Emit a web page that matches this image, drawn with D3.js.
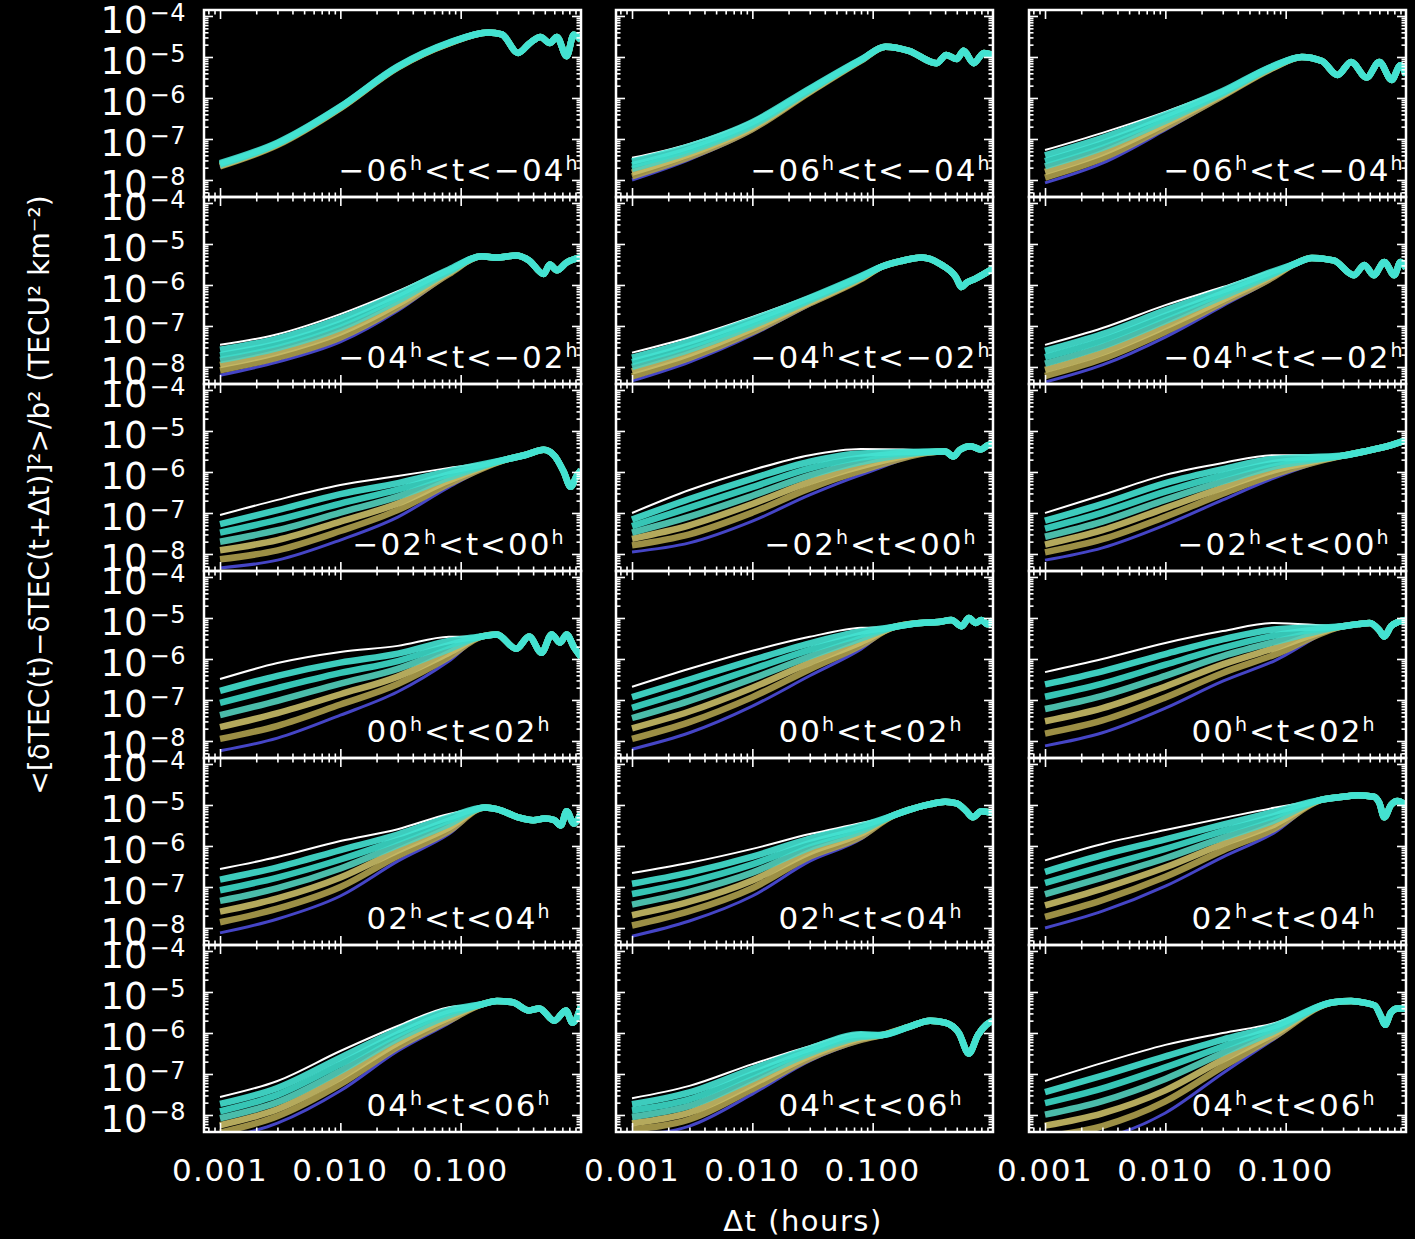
<!DOCTYPE html>
<html><head><meta charset="utf-8">
<script src="https://cdn.jsdelivr.net/npm/d3@7"></script>
<style>body{margin:0;background:#000}svg{display:block}</style>
</head><body>
<svg id="c" width="1415" height="1239"></svg>
<script>
// ---------------- data ----------------
const xTicks = [0.001, 0.01, 0.1];
const xTickLabels = ["0.001", "0.010", "0.100"];
const yExponents = [-4, -5, -6, -7, -8];
const rowHours = [["−06","−04"],["−04","−02"],["−02","00"],["00","02"],["02","04"],["04","06"]];
// Δt knots (hours) of the fanned-out early part of each curve
const knots = [0.001, 0.003, 0.01, 0.03, 0.08];
// log10 values, curves ordered top (white) -> bottom (blue)
const fan11 = [[-7.57,-7.08,-6.20,-5.22,-4.65],[-7.59,-7.09,-6.21,-5.23,-4.65],[-7.61,-7.11,-6.22,-5.24,-4.66],[-7.63,-7.12,-6.23,-5.25,-4.66],[-7.65,-7.13,-6.24,-5.25,-4.67],[-7.67,-7.15,-6.25,-5.26,-4.67],[-7.69,-7.16,-6.26,-5.27,-4.68]];
const fan12 = [[-7.46,-7.12,-6.55,-5.75,-5.05],[-7.55,-7.18,-6.59,-5.77,-5.06],[-7.64,-7.25,-6.63,-5.79,-5.07],[-7.73,-7.31,-6.68,-5.82,-5.08],[-7.82,-7.37,-6.72,-5.84,-5.08],[-7.91,-7.44,-6.76,-5.86,-5.09],[-8.00,-7.50,-6.80,-5.88,-5.10]];
const fan13 = [[-7.27,-6.85,-6.34,-5.80,-5.20],[-7.40,-6.97,-6.41,-5.83,-5.21],[-7.54,-7.10,-6.49,-5.86,-5.22],[-7.67,-7.22,-6.56,-5.89,-5.24],[-7.80,-7.34,-6.63,-5.92,-5.25],[-7.94,-7.47,-6.71,-5.95,-5.26],[-8.07,-7.59,-6.78,-5.98,-5.27]];
const fan21 = [[-7.46,-7.20,-6.71,-6.15,-5.59],[-7.58,-7.31,-6.82,-6.23,-5.62],[-7.71,-7.43,-6.94,-6.31,-5.65],[-7.83,-7.54,-7.05,-6.39,-5.68],[-7.95,-7.65,-7.16,-6.47,-5.70],[-8.08,-7.77,-7.28,-6.55,-5.73],[-8.20,-7.88,-7.39,-6.63,-5.76]];
const fan22 = [[-7.65,-7.28,-6.78,-6.27,-5.76],[-7.77,-7.38,-6.85,-6.31,-5.78],[-7.88,-7.48,-6.93,-6.34,-5.80],[-8.00,-7.58,-7.00,-6.38,-5.82],[-8.11,-7.68,-7.07,-6.42,-5.84],[-8.23,-7.78,-7.15,-6.45,-5.86],[-8.34,-7.88,-7.22,-6.49,-5.88]];
const fan23 = [[-7.46,-7.05,-6.49,-6.05,-5.63],[-7.61,-7.20,-6.62,-6.13,-5.66],[-7.76,-7.35,-6.75,-6.20,-5.70],[-7.92,-7.50,-6.88,-6.28,-5.73],[-8.07,-7.65,-7.01,-6.36,-5.76],[-8.22,-7.80,-7.14,-6.43,-5.80],[-8.37,-7.95,-7.27,-6.51,-5.83]];
const fan31 = [[-7.05,-6.68,-6.32,-6.10,-5.90],[-7.27,-6.93,-6.54,-6.27,-5.98],[-7.48,-7.17,-6.77,-6.43,-6.06],[-7.70,-7.42,-6.99,-6.60,-6.14],[-7.91,-7.66,-7.21,-6.77,-6.21],[-8.13,-7.91,-7.44,-6.93,-6.29],[-8.34,-8.15,-7.66,-7.10,-6.37]];
const fan32 = [[-7.00,-6.44,-5.95,-5.59,-5.44],[-7.16,-6.66,-6.16,-5.75,-5.55],[-7.32,-6.87,-6.37,-5.91,-5.65],[-7.48,-7.09,-6.58,-6.08,-5.76],[-7.63,-7.30,-6.78,-6.24,-5.86],[-7.79,-7.52,-6.99,-6.40,-5.97],[-7.95,-7.73,-7.20,-6.56,-6.07]];
const fan33 = [[-7.00,-6.56,-6.07,-5.78,-5.59],[-7.19,-6.78,-6.27,-5.93,-5.68],[-7.38,-6.99,-6.48,-6.08,-5.78],[-7.58,-7.21,-6.68,-6.23,-5.87],[-7.77,-7.42,-6.88,-6.38,-5.96],[-7.96,-7.64,-7.09,-6.53,-6.06],[-8.15,-7.85,-7.29,-6.68,-6.15]];
const fan41 = [[-6.49,-6.10,-5.83,-5.68,-5.46],[-6.78,-6.41,-6.09,-5.87,-5.56],[-7.07,-6.71,-6.34,-6.05,-5.66],[-7.37,-7.02,-6.60,-6.24,-5.76],[-7.66,-7.32,-6.86,-6.43,-5.85],[-7.95,-7.63,-7.11,-6.61,-5.95],[-8.24,-7.93,-7.37,-6.80,-6.05]];
const fan42 = [[-6.68,-6.24,-5.80,-5.46,-5.24],[-6.93,-6.50,-6.03,-5.62,-5.33],[-7.19,-6.76,-6.25,-5.78,-5.41],[-7.44,-7.02,-6.48,-5.94,-5.50],[-7.69,-7.28,-6.70,-6.09,-5.59],[-7.95,-7.54,-6.93,-6.25,-5.67],[-8.20,-7.80,-7.15,-6.41,-5.76]];
const fan43 = [[-6.32,-6.00,-5.61,-5.32,-5.12],[-6.62,-6.30,-5.88,-5.52,-5.28],[-6.92,-6.60,-6.14,-5.73,-5.43],[-7.22,-6.90,-6.41,-5.93,-5.59],[-7.52,-7.20,-6.67,-6.13,-5.74],[-7.82,-7.50,-6.94,-6.34,-5.90],[-8.12,-7.80,-7.20,-6.54,-6.05]];
const fan51 = [[-6.56,-6.27,-5.88,-5.59,-5.22],[-6.82,-6.52,-6.10,-5.72,-5.30],[-7.08,-6.77,-6.33,-5.85,-5.38],[-7.34,-7.03,-6.55,-5.98,-5.47],[-7.60,-7.28,-6.77,-6.11,-5.55],[-7.86,-7.53,-7.00,-6.24,-5.63],[-8.12,-7.78,-7.22,-6.37,-5.71]];
const fan52 = [[-6.66,-6.41,-6.07,-5.71,-5.44],[-6.92,-6.65,-6.26,-5.82,-5.51],[-7.17,-6.88,-6.45,-5.93,-5.57],[-7.43,-7.12,-6.65,-6.04,-5.64],[-7.69,-7.36,-6.84,-6.15,-5.70],[-7.94,-7.59,-7.03,-6.26,-5.77],[-8.20,-7.83,-7.22,-6.37,-5.83]];
const fan53 = [[-6.35,-5.95,-5.61,-5.32,-5.07],[-6.63,-6.22,-5.84,-5.48,-5.17],[-6.90,-6.50,-6.07,-5.64,-5.27],[-7.18,-6.77,-6.30,-5.80,-5.38],[-7.45,-7.04,-6.52,-5.95,-5.48],[-7.73,-7.32,-6.75,-6.11,-5.58],[-8.00,-7.59,-6.98,-6.27,-5.68]];
const fan61 = [[-7.56,-7.17,-6.44,-5.83,-5.37],[-7.73,-7.34,-6.60,-5.93,-5.44],[-7.91,-7.51,-6.76,-6.03,-5.50],[-8.08,-7.69,-6.93,-6.14,-5.57],[-8.25,-7.86,-7.09,-6.24,-5.63],[-8.43,-8.03,-7.25,-6.34,-5.70],[-8.60,-8.20,-7.41,-6.44,-5.76]];
const fan62 = [[-7.59,-7.29,-6.76,-6.32,-6.00],[-7.74,-7.45,-6.88,-6.38,-6.03],[-7.89,-7.62,-7.00,-6.44,-6.07],[-8.05,-7.78,-7.13,-6.50,-6.10],[-8.20,-7.94,-7.25,-6.56,-6.13],[-8.35,-8.11,-7.37,-6.62,-6.17],[-8.50,-8.27,-7.49,-6.68,-6.20]];
const fan63 = [[-7.17,-6.73,-6.29,-6.00,-5.76],[-7.44,-7.04,-6.57,-6.16,-5.83],[-7.71,-7.35,-6.84,-6.33,-5.89],[-7.99,-7.66,-7.12,-6.49,-5.96],[-8.26,-7.96,-7.40,-6.65,-6.02],[-8.53,-8.27,-7.67,-6.82,-6.09],[-8.80,-8.58,-7.95,-6.98,-6.15]];
// common tail once the curves have merged: [Δt, log10 value]
const tail11 = [[0.17,-4.4],[0.22,-4.45],[0.3,-4.9],[0.376,-4.66],[0.46,-4.51],[0.55,-4.66],[0.63,-4.51],[0.76,-4.98],[0.87,-4.46],[1.0,-4.59]];
const tail12 = [[0.128,-4.75],[0.2,-4.85],[0.34,-5.15],[0.41,-4.95],[0.5,-5.05],[0.57,-4.85],[0.69,-5.15],[0.84,-4.9],[1.0,-4.95]];
const tail13 = [[0.136,-5.0],[0.2,-5.1],[0.27,-5.44],[0.35,-5.12],[0.47,-5.5],[0.6,-5.12],[0.76,-5.56],[0.9,-5.2],[1.0,-5.44]];
const tail21 = [[0.15,-5.3],[0.2,-5.33],[0.29,-5.28],[0.37,-5.4],[0.49,-5.73],[0.55,-5.5],[0.63,-5.64],[0.76,-5.45],[1.0,-5.33]];
const tail22 = [[0.12,-5.55],[0.17,-5.42],[0.256,-5.33],[0.37,-5.5],[0.49,-5.8],[0.55,-6.05],[0.6,-5.95],[0.71,-5.85],[1.0,-5.6]];
const tail23 = [[0.12,-5.48],[0.165,-5.34],[0.25,-5.4],[0.37,-5.76],[0.45,-5.51],[0.54,-5.76],[0.66,-5.44],[0.8,-5.76],[0.9,-5.44],[1.0,-5.59]];
const tail31 = [[0.25,-5.68],[0.35,-5.58],[0.49,-5.46],[0.6,-5.6],[0.72,-6.0],[0.82,-6.36],[0.92,-6.1],[1.0,-5.95]];
const tail32 = [[0.4,-5.5],[0.47,-5.62],[0.53,-5.46],[0.65,-5.37],[0.79,-5.45],[0.9,-5.35],[1.0,-5.3]];
const tail33 = [[0.3,-5.6],[0.45,-5.5],[0.6,-5.42],[0.8,-5.32],[1.0,-5.22]];
const tail41 = [[0.15,-5.45],[0.2,-5.4],[0.29,-5.75],[0.37,-5.45],[0.47,-5.85],[0.57,-5.4],[0.67,-5.6],[0.76,-5.4],[0.87,-5.7],[1.0,-5.95]];
const tail42 = [[0.15,-5.22],[0.25,-5.12],[0.35,-5.1],[0.45,-5.05],[0.55,-5.2],[0.63,-5.0],[0.72,-5.12],[0.8,-5.05],[0.9,-5.15],[1.0,-5.05]];
const tail43 = [[0.3,-5.2],[0.4,-5.15],[0.5,-5.12],[0.6,-5.3],[0.66,-5.45],[0.75,-5.2],[0.86,-5.1],[1.0,-5.05]];
const tail51 = [[0.16,-5.06],[0.2,-5.1],[0.3,-5.3],[0.4,-5.37],[0.5,-5.33],[0.6,-5.37],[0.68,-5.5],[0.76,-5.15],[0.87,-5.45],[1.0,-5.2]];
const tail52 = [[0.15,-5.25],[0.2,-5.12],[0.3,-4.98],[0.4,-4.92],[0.5,-4.96],[0.6,-5.15],[0.68,-5.3],[0.8,-5.15],[1.0,-5.2]];
const tail53 = [[0.2,-4.87],[0.3,-4.8],[0.4,-4.76],[0.54,-4.8],[0.6,-4.95],[0.66,-5.3],[0.75,-5.0],[0.85,-4.9],[1.0,-5.0]];
const tail61 = [[0.15,-5.3],[0.2,-5.22],[0.27,-5.25],[0.37,-5.45],[0.45,-5.4],[0.6,-5.7],[0.75,-5.45],[0.85,-5.75],[1.0,-5.35]];
const tail62 = [[0.12,-6.05],[0.2,-5.85],[0.3,-5.7],[0.4,-5.75],[0.52,-6.0],[0.63,-6.5],[0.75,-6.05],[0.88,-5.8],[1.0,-5.7]];
const tail63 = [[0.25,-5.25],[0.35,-5.22],[0.45,-5.26],[0.55,-5.33],[0.62,-5.6],[0.67,-5.8],[0.75,-5.5],[0.85,-5.4],[1.0,-5.4]];

const fans = [[fan11,fan12,fan13],[fan21,fan22,fan23],[fan31,fan32,fan33],[fan41,fan42,fan43],[fan51,fan52,fan53],[fan61,fan62,fan63]];
const tails = [[tail11,tail12,tail13],[tail21,tail22,tail23],[tail31,tail32,tail33],[tail41,tail42,tail43],[tail51,tail52,tail53],[tail61,tail62,tail63]];
const curveColors = ["#ffffff","#44e2d2","#3cdac9","#52d0bc","#c8bb66","#ad9f4c","#4c4cdc"];
const curveWidths = [2, 6.5, 6.5, 6.5, 6.5, 6.5, 3];
const drawOrder = [0, 6, 5, 4, 3, 2, 1];

// ---------------- layout ----------------
const svg = d3.select("#c");
svg.append("rect").attr("width",1415).attr("height",1239).attr("fill","#000");
const FONT = "DejaVu Sans";
const lefts = [204, 616, 1029], W = 377, H = 187, top0 = 10;
const xDomain = [0.000736, 1], yDomain = [Math.pow(10,-8.415), Math.pow(10,-3.854)];
const yMajor = yExponents.map(e => Math.pow(10, e));
const yMinor = [];
for (let e = -9; e <= -4; e++) for (let m = 2; m <= 9; m++) { const v = m*Math.pow(10,e); if (v > yDomain[0] && v < yDomain[1]) yMinor.push(v); }
const xMinor = [];
for (let e = -4; e <= -1; e++) for (let m = 2; m <= 9; m++) { const v = m*Math.pow(10,e); if (v > xDomain[0] && v < xDomain[1]) xMinor.push(v); }

const defs = svg.append("defs");

function tickAxis(g, axis) {
  g.call(axis);
  g.select(".domain").remove();
  g.selectAll("line").attr("stroke","#fff").attr("stroke-width",1.6);
  g.selectAll("text").remove();
}

for (let r = 0; r < 6; r++) {
  for (let c = 0; c < 3; c++) {
    const L = lefts[c], T = top0 + r*H;
    const x = d3.scaleLog().domain(xDomain).range([L, L+W]);
    const y = d3.scaleLog().domain(yDomain).range([T+H, T]);
    const id = "clip"+r+c;
    defs.append("clipPath").attr("id", id).append("rect").attr("x",L).attr("y",T).attr("width",W).attr("height",H);
    const g = svg.append("g").attr("clip-path","url(#"+id+")");
    const line = d3.line().x(d => x(d[0])).y(d => y(Math.pow(10, d[1]))).curve(d3.curveMonotoneX);
    const fan = fans[r][c], tail = tails[r][c];
    drawOrder.forEach(k => {
      const pts = knots.map((t,i) => [t, fan[k][i]]).concat(tail);
      g.append("path").attr("d", line(pts)).attr("fill","none")
        .attr("stroke", curveColors[k]).attr("stroke-width", curveWidths[k])
        .attr("stroke-opacity", k===0 ? 1 : 0.9).attr("stroke-linejoin","round");
    });
    // ticks (inward)
    tickAxis(svg.append("g").attr("transform",`translate(${L},0)`), d3.axisLeft(y).tickValues(yMajor).tickSize(-9));
    tickAxis(svg.append("g").attr("transform",`translate(${L},0)`), d3.axisLeft(y).tickValues(yMinor).tickSize(-4.5));
    tickAxis(svg.append("g").attr("transform",`translate(${L+W},0)`), d3.axisRight(y).tickValues(yMajor).tickSize(-9));
    tickAxis(svg.append("g").attr("transform",`translate(${L+W},0)`), d3.axisRight(y).tickValues(yMinor).tickSize(-4.5));
    tickAxis(svg.append("g").attr("transform",`translate(0,${T+H})`), d3.axisBottom(x).tickValues(xTicks).tickSize(-9));
    tickAxis(svg.append("g").attr("transform",`translate(0,${T+H})`), d3.axisBottom(x).tickValues(xMinor).tickSize(-4.5));
    tickAxis(svg.append("g").attr("transform",`translate(0,${T})`), d3.axisTop(x).tickValues(xTicks).tickSize(-9));
    tickAxis(svg.append("g").attr("transform",`translate(0,${T})`), d3.axisTop(x).tickValues(xMinor).tickSize(-4.5));
    // frame
    svg.append("rect").attr("x",L).attr("y",T).attr("width",W).attr("height",H)
      .attr("fill","none").attr("stroke","#fff").attr("stroke-width",2.5);
    // panel label
    const hrs = rowHours[r];
    const t = svg.append("text").attr("x", L+255).attr("y", T+H-16).attr("text-anchor","middle")
      .attr("fill","#fff").attr("font-family",FONT).attr("font-size",31).attr("letter-spacing",2);
    t.append("tspan").text(hrs[0]);
    t.append("tspan").attr("dy",-11).attr("font-size",19).text("h");
    t.append("tspan").attr("dy",11).text("<t<" + hrs[1]);
    t.append("tspan").attr("dy",-11).attr("font-size",19).text("h");
    // y tick labels (first column)
    if (c === 0) {
      yExponents.forEach(e => {
        const tx = svg.append("text").attr("x", L-18).attr("y", y(Math.pow(10,e)) + 17)
          .attr("text-anchor","end").attr("fill","#fff").attr("font-family",FONT).attr("font-size",37);
        tx.append("tspan").text("10");
        tx.append("tspan").attr("dy",-12).attr("dx",2).attr("font-size",24).attr("letter-spacing",0.5).text("−" + (-e));
      });
    }
    // x tick labels (bottom row)
    if (r === 5) {
      xTicks.forEach((v,i) => {
        svg.append("text").attr("x", x(v)).attr("y", 1181).attr("text-anchor","middle")
          .attr("fill","#fff").attr("font-family",FONT).attr("font-size",31).attr("letter-spacing",1.5)
          .text(xTickLabels[i]);
      });
    }
  }
}
// axis titles
svg.append("text").attr("x", 803).attr("y", 1231).attr("text-anchor","middle")
  .attr("fill","#fff").attr("font-family",FONT).attr("font-size",29).attr("letter-spacing",1.5)
  .text("Δt (hours)");
svg.append("text").attr("transform","translate(49,495) rotate(-90)").attr("text-anchor","middle")
  .attr("fill","#fff").attr("font-family",FONT).attr("font-size",28)
  .text("<[δTEC(t)−δTEC(t+Δt)]²>/b² (TECU² km⁻²)");
</script>
</body></html>
